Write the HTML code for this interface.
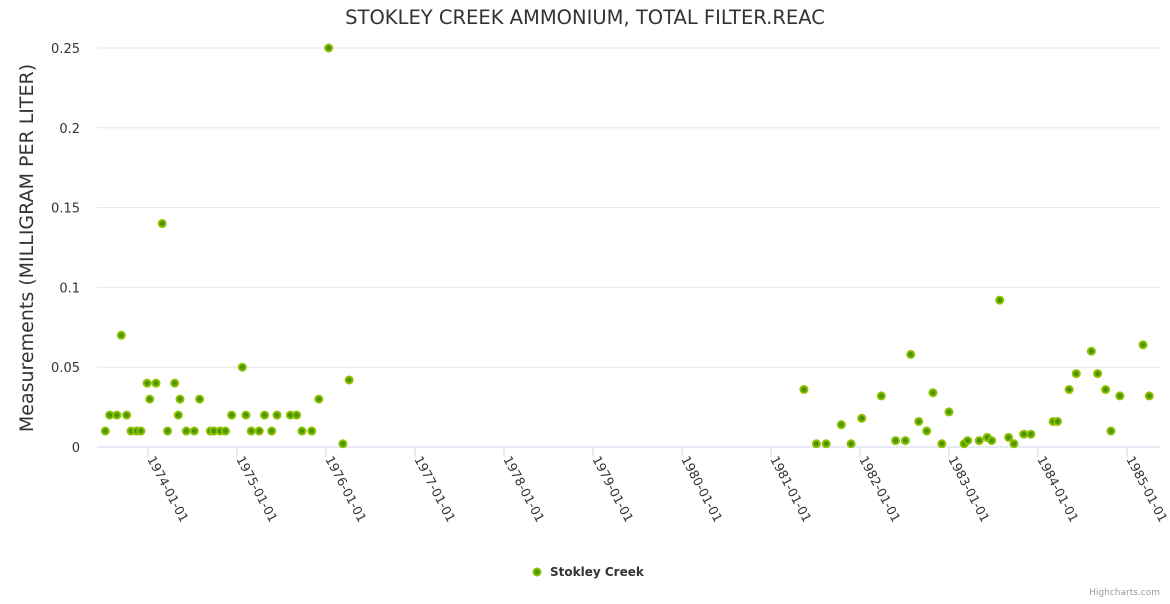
<!DOCTYPE html>
<html><head><meta charset="utf-8"><style>
body{margin:0;background:#fff;font-family:"DejaVu Sans",sans-serif}
svg text{font-family:"DejaVu Sans",sans-serif}
</style></head><body>
<svg id="chart" width="1170" height="600">
<text x="585" y="24" text-anchor="middle" font-size="19.5" fill="#333">STOKLEY CREEK AMMONIUM, TOTAL FILTER.REAC</text>
<text transform="translate(33,248) rotate(-90)" text-anchor="middle" font-size="19" fill="#333">Measurements (MILLIGRAM PER LITER)</text>
<g id="grid"></g><g id="xaxis"></g><g id="pts"></g>
<g>
<circle cx="537" cy="572" r="3.5" fill="#4a9400" stroke="#8cc000" stroke-width="2"/>
<text x="550" y="576" font-size="12" font-weight="bold" fill="#333">Stokley Creek</text></g>
<text x="1160" y="595" text-anchor="end" font-size="9" fill="#999">Highcharts.com</text>
</svg>
<script>
const xs=[1973.52,1973.57,1973.65,1973.70,1973.76,1973.81,1973.87,1973.92,1973.99,1974.02,1974.09,1974.16,1974.22,1974.30,1974.34,1974.36,1974.43,1974.52,1974.58,1974.70,1974.74,1974.81,1974.87,1974.94,1975.06,1975.10,1975.16,1975.25,1975.31,1975.39,1975.45,1975.60,1975.67,1975.73,1975.84,1975.92,1976.03,1976.19,1976.26,
1981.37,1981.51,1981.62,1981.79,1981.90,1982.02,1982.24,1982.40,1982.51,1982.57,1982.66,1982.75,1982.82,1982.92,1983.00,1983.17,1983.21,1983.34,1983.43,1983.48,1983.57,1983.67,1983.73,1983.84,1983.92,1984.17,1984.22,1984.35,1984.43,1984.60,1984.67,1984.76,1984.82,1984.92,1985.18,1985.25];
const ys=[0.01,0.02,0.02,0.07,0.02,0.01,0.01,0.01,0.04,0.03,0.04,0.14,0.01,0.04,0.02,0.03,0.01,0.01,0.03,0.01,0.01,0.01,0.01,0.02,0.05,0.02,0.01,0.01,0.02,0.01,0.02,0.02,0.02,0.01,0.01,0.03,0.25,0.002,0.042,
0.036,0.002,0.002,0.014,0.002,0.018,0.032,0.004,0.004,0.058,0.016,0.01,0.034,0.002,0.022,0.002,0.004,0.004,0.006,0.004,0.092,0.006,0.002,0.008,0.008,0.016,0.016,0.036,0.046,0.06,0.046,0.036,0.01,0.032,0.064,0.032];
const yTicks=[0,0.05,0.1,0.15,0.2,0.25];
const yTickLabels=["0","0.05","0.1","0.15","0.2","0.25"];
const xTickYears=[1974,1975,1976,1977,1978,1979,1980,1981,1982,1983,1984,1985];
const NS="http://www.w3.org/2000/svg";
const L=97,R=1160,T=48,B=447,x0=1973.427,x1=1985.371;
const X=v=>L+(v-x0)/(x1-x0)*(R-L);
const Y=v=>B-v/0.25*(B-T);
function mk(t,a,p){const e=document.createElementNS(NS,t);for(const k in a)e.setAttribute(k,a[k]);p.appendChild(e);return e;}
const g=document.getElementById('grid');
yTicks.forEach((v,i)=>{
 const l=mk('line',{x1:L,x2:R,y1:Y(v),y2:Y(v),stroke:v===0?'#ccd6eb':'#e6e6e6'},g);
 
 
 const t=mk('text',{x:80,y:Y(v)+5,'text-anchor':'end','font-size':13,fill:'#333'},g);
 t.textContent=yTickLabels[i];
 
 
});
const xa=document.getElementById('xaxis');
xTickYears.forEach(yr=>{
 const px=X(yr);
 const l=mk('line',{x1:px,x2:px,y1:B,y2:B+10,stroke:'#ccd6eb'},xa);
 
 
 const t=mk('text',{transform:`translate(${px-1},${B+12}) rotate(62)`,'font-size':12.5,fill:'#333'},xa);
 t.textContent=yr+'-01-01';
 
 
});
const pg=document.getElementById('pts');
xs.forEach((v,i)=>{
 const c=mk('circle',{cx:X(v),cy:Y(ys[i]),r:3.5,fill:'#4a9400',stroke:'#8cc000','stroke-width':2},pg);
 
 
});
</script>
</body></html>
